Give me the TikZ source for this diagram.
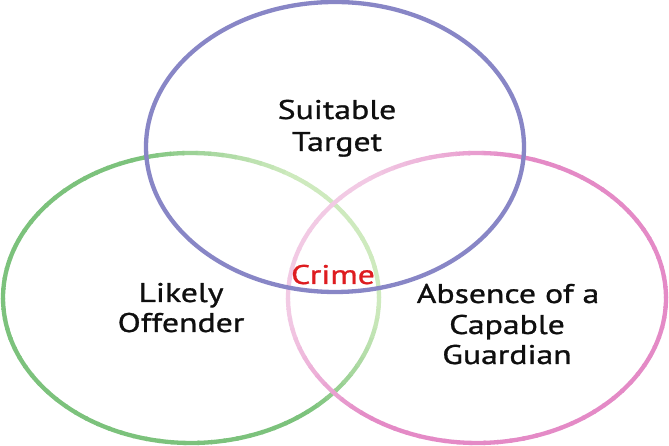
\documentclass[tikz,border=0pt]{standalone}
\usepackage{fontspec}
\setmainfont{PT Sans}[FakeStretch=1.25, FakeBold=1]
\definecolor{gdark}{RGB}{124,194,124}
\definecolor{glight}{RGB}{206,234,190}
\definecolor{pdark}{RGB}{228,138,198}
\definecolor{plight}{RGB}{242,202,228}
\definecolor{purp}{RGB}{136,134,198}
\definecolor{crimered}{RGB}{222,28,32}
\definecolor{txt}{RGB}{15,15,15}
\tikzset{
  ring/.style={line width=4.3pt},
  lbl/.style={anchor=base, inner sep=0pt, text=txt, font=\fontsize{27}{30}\selectfont},
  crimelbl/.style={lbl, text=crimered}
}
\begin{document}
\begin{tikzpicture}[x=1pt,y=1pt]
\useasboundingbox (0,0) rectangle (669,446);
\fill[white] (0,0) rectangle (669,446);
% Likely Offender ring (green)
\foreach \a in {0,4,...,356}{
  \pgfmathtruncatemacro\t{max(0,min(100,130-150*cos(\a-25)))}
  \draw[ring, gdark!\t!glight] (191,148) ++(\a:188 and 145)
    arc[start angle=\a, end angle=\a+4.6, x radius=188, y radius=145];
}
% Guardian ring (pink)
\foreach \a in {0,4,...,356}{
  \pgfmathtruncatemacro\t{max(0,min(100,130-150*cos(\a-155)))}
  \draw[ring, pdark!\t!plight] (477,148) ++(\a:189 and 145)
    arc[start angle=\a, end angle=\a+4.6, x radius=189, y radius=145];
}
% Suitable Target ring (purple)
\draw[ring, purp] (335,299) ellipse[x radius=189, y radius=145];
% labels
\node[lbl] (st1) at (337,327) {Suitable};
\node[lbl] (st2) at (337,295) {Target};
\node[crimelbl] (cr) at (333,162) {Crime};
\node[lbl] (lo1) at (181,144) {Likely};
\node[lbl] (lo2) at (181,114) {Offender};
\node[lbl] (ag1) at (508,143) {Absence of a};
\node[lbl] (ag2) at (507,112) {Capable};
\node[lbl] (ag3) at (507,82) {Guardian};
\end{tikzpicture}
\end{document}
